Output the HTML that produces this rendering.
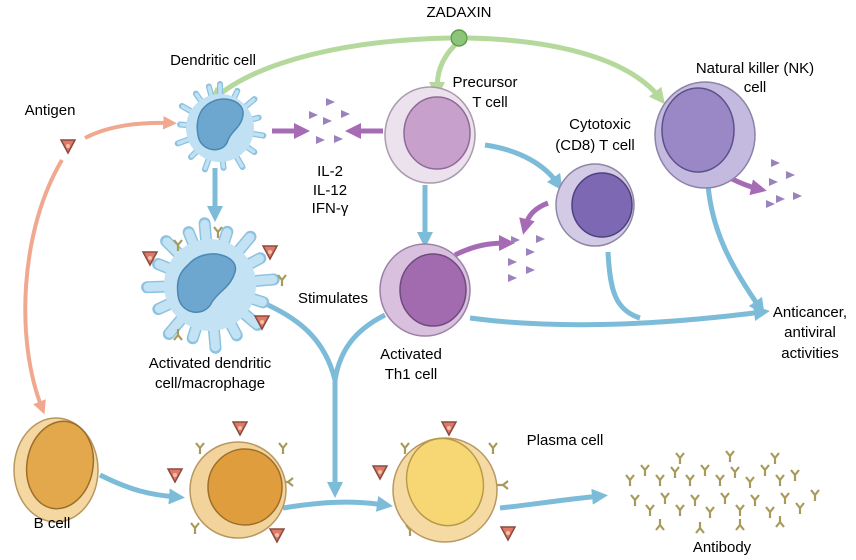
<!DOCTYPE html>
<html><head><meta charset="utf-8"><style>
html,body{margin:0;padding:0;background:#fff;}
svg{display:block;font-family:"Liberation Sans",sans-serif;}
</style></head><body>
<svg width="856" height="560" viewBox="0 0 856 560" xmlns="http://www.w3.org/2000/svg">
<defs>
<marker id="ab" viewBox="0 0 10 10" refX="5" refY="5" markerWidth="3.2" markerHeight="3.2" orient="auto"><path d="M0,0L10,5L0,10z" fill="#7cbcd9"/></marker>
<marker id="ag" viewBox="0 0 10 10" refX="5" refY="5" markerWidth="3.2" markerHeight="3.2" orient="auto"><path d="M0,0L10,5L0,10z" fill="#b5d99d"/></marker>
<marker id="ap" viewBox="0 0 10 10" refX="5" refY="5" markerWidth="3.4" markerHeight="3.4" orient="auto"><path d="M0,0L10,5L0,10z" fill="#f0a98f"/></marker>
<marker id="av" viewBox="0 0 10 10" refX="5" refY="5" markerWidth="3.2" markerHeight="3.2" orient="auto"><path d="M0,0L10,5L0,10z" fill="#a66bb5"/></marker>
<g id="tri"><path d="M-4,-4L5,0L-4,4z" fill="#9a82bd"/></g>
<g id="ant"><path d="M-7,-6L7,-6L0,7z" fill="#e07a66" stroke="#8a4a40" stroke-width="1.5"/><circle r="2" fill="#f2c0a8"/></g>
<g id="y" stroke="#a89a5a" stroke-width="2.2" fill="none"><path d="M0,6L0,0L-4,-5M0,0L4,-5"/></g>
</defs>
<rect width="856" height="560" fill="#fff"/>

<g stroke="#b5d99d" stroke-width="5" fill="none">
<path d="M450,38 C350,40 260,60 215,98" marker-end="url(#ag)"/>
<path d="M455,45 C440,60 437,75 437,90" marker-end="url(#ag)"/>
<path d="M468,38 C560,40 630,60 660,98" marker-end="url(#ag)"/>
</g>
<circle cx="459" cy="38" r="8" fill="#8cc47a" stroke="#5f9a4e" stroke-width="1.5"/>
<text x="459" y="17" font-size="15" text-anchor="middle">ZADAXIN</text>

<g stroke="#f0a98f" stroke-width="4" fill="none">
<path d="M85,138 C110,125 140,122 170,123" marker-end="url(#ap)"/>
<path d="M62,160 C20,230 15,340 42,408" marker-end="url(#ap)"/>
</g>
<use href="#ant" x="68" y="146"/>
<text x="50" y="115" font-size="15" text-anchor="middle">Antigen</text>

<g stroke="#7cbcd9" stroke-width="5" fill="none">
<path d="M215,168 L215,214" marker-end="url(#ab)"/>
<path d="M425,185 L425,240" marker-end="url(#ab)"/>
<path d="M485,145 C520,150 545,165 558,184" marker-end="url(#ab)"/>
<path d="M708,185 C712,230 730,265 760,308" marker-end="url(#ab)"/>
<path d="M608,252 C610,290 615,310 640,318" />
<path d="M470,318 C560,330 660,325 762,312" marker-end="url(#ab)"/>
<path d="M268,305 C300,320 325,340 335,380 L335,490" marker-end="url(#ab)"/>
<path d="M385,315 C355,330 340,350 335,380"/>
<path d="M100,475 C130,490 150,495 177,497" marker-end="url(#ab)"/>
<path d="M283,508 C320,502 350,500 385,505" marker-end="url(#ab)"/>
<path d="M500,508 C530,505 560,500 600,496" marker-end="url(#ab)"/>
</g>

<g stroke="#a66bb5" stroke-width="5" fill="none">
<path d="M272,131 L302,131" marker-end="url(#av)"/>
<path d="M383,131 L353,131" marker-end="url(#av)"/>
<path d="M455,255 C475,245 490,243 507,243" marker-end="url(#av)"/>
<path d="M548,203 C535,208 528,215 525,227" marker-end="url(#av)"/>
<path d="M730,178 C742,184 750,187 759,189" marker-end="url(#av)"/>
</g>
<use href="#tri" x="330" y="102"/>
<use href="#tri" x="313" y="115"/><use href="#tri" x="345" y="114"/><use href="#tri" x="327" y="121"/>
<use href="#tri" x="320" y="140"/><use href="#tri" x="338" y="139"/>
<use href="#tri" x="515" y="240"/><use href="#tri" x="540" y="239"/><use href="#tri" x="530" y="252"/>
<use href="#tri" x="512" y="262"/><use href="#tri" x="530" y="270"/><use href="#tri" x="512" y="278"/>
<use href="#tri" x="775" y="163"/><use href="#tri" x="790" y="175"/><use href="#tri" x="773" y="182"/>
<use href="#tri" x="770" y="204"/><use href="#tri" x="780" y="199"/><use href="#tri" x="797" y="196"/>
<text x="330" y="176" font-size="15" text-anchor="middle">IL-2</text>
<text x="330" y="195" font-size="15" text-anchor="middle">IL-12</text>
<text x="330" y="213" font-size="15" text-anchor="middle">IFN-γ</text>

<!-- dendritic cell -->
<g transform="translate(220,128)" stroke="#8dc2e0" stroke-width="6" stroke-linecap="round">
<line y1="-30" y2="-44" transform="rotate(0)"/><line y1="-30" y2="-41" transform="rotate(25)"/><line y1="-30" y2="-45" transform="rotate(50)"/><line y1="-30" y2="-40" transform="rotate(75)"/><line y1="-30" y2="-44" transform="rotate(100)"/><line y1="-30" y2="-42" transform="rotate(125)"/><line y1="-30" y2="-45" transform="rotate(150)"/><line y1="-30" y2="-40" transform="rotate(175)"/><line y1="-30" y2="-44" transform="rotate(200)"/><line y1="-30" y2="-41" transform="rotate(225)"/><line y1="-30" y2="-45" transform="rotate(250)"/><line y1="-30" y2="-40" transform="rotate(275)"/><line y1="-30" y2="-44" transform="rotate(300)"/><line y1="-30" y2="-42" transform="rotate(325)"/><line y1="-30" y2="-43" transform="rotate(345)"/>
</g>
<g transform="translate(220,128)" stroke="#bfe1f3" stroke-width="3.5" stroke-linecap="round">
<line y1="-30" y2="-43" transform="rotate(0)"/><line y1="-30" y2="-40" transform="rotate(25)"/><line y1="-30" y2="-44" transform="rotate(50)"/><line y1="-30" y2="-39" transform="rotate(75)"/><line y1="-30" y2="-43" transform="rotate(100)"/><line y1="-30" y2="-41" transform="rotate(125)"/><line y1="-30" y2="-44" transform="rotate(150)"/><line y1="-30" y2="-39" transform="rotate(175)"/><line y1="-30" y2="-43" transform="rotate(200)"/><line y1="-30" y2="-40" transform="rotate(225)"/><line y1="-30" y2="-44" transform="rotate(250)"/><line y1="-30" y2="-39" transform="rotate(275)"/><line y1="-30" y2="-43" transform="rotate(300)"/><line y1="-30" y2="-41" transform="rotate(325)"/><line y1="-30" y2="-42" transform="rotate(345)"/>
</g>
<circle cx="220" cy="128" r="34" fill="#bfe1f3"/>
<path d="M202,110 C215,92 245,98 243,115 C241,128 232,130 228,140 C224,155 200,152 198,135 C196,125 198,116 202,110z" fill="#6da7cf" stroke="#4b88b3" stroke-width="1.5"/>
<text x="213" y="65" font-size="15" text-anchor="middle">Dendritic cell</text>

<!-- activated dendritic -->
<g transform="translate(210,285)" stroke="#8dc2e0" stroke-width="12" stroke-linecap="round">
<line y2="-62" transform="rotate(-5)"/><line y2="-56" transform="rotate(18)"/><line y2="-63" transform="rotate(40)"/><line y2="-57" transform="rotate(62)"/><line y2="-64" transform="rotate(85)"/><line y2="-56" transform="rotate(108)"/><line y2="-62" transform="rotate(130)"/><line y2="-57" transform="rotate(152)"/><line y2="-63" transform="rotate(175)"/><line y2="-56" transform="rotate(198)"/><line y2="-64" transform="rotate(220)"/><line y2="-57" transform="rotate(245)"/><line y2="-63" transform="rotate(268)"/><line y2="-56" transform="rotate(292)"/><line y2="-62" transform="rotate(315)"/><line y2="-57" transform="rotate(338)"/>
</g>
<g transform="translate(210,285)" stroke="#c3e3f4" stroke-width="9" stroke-linecap="round">
<line y2="-61" transform="rotate(-5)"/><line y2="-55" transform="rotate(18)"/><line y2="-62" transform="rotate(40)"/><line y2="-56" transform="rotate(62)"/><line y2="-63" transform="rotate(85)"/><line y2="-55" transform="rotate(108)"/><line y2="-61" transform="rotate(130)"/><line y2="-56" transform="rotate(152)"/><line y2="-62" transform="rotate(175)"/><line y2="-55" transform="rotate(198)"/><line y2="-63" transform="rotate(220)"/><line y2="-56" transform="rotate(245)"/><line y2="-62" transform="rotate(268)"/><line y2="-55" transform="rotate(292)"/><line y2="-61" transform="rotate(315)"/><line y2="-56" transform="rotate(338)"/>
</g>
<circle cx="210" cy="285" r="46" fill="#c3e3f4"/>
<path d="M188,265 C205,245 240,255 235,272 C230,288 220,290 212,302 C205,318 180,315 178,295 C176,280 180,272 188,265z" fill="#6da7cf" stroke="#4b88b3" stroke-width="1.5"/>
<use href="#ant" x="150" y="258"/><use href="#ant" x="270" y="252"/><use href="#ant" x="262" y="322"/>
<use href="#y" x="178" y="245"/><use href="#y" x="218" y="232"/><use href="#y" x="282" y="280"/><use href="#y" x="178" y="335" transform="rotate(180 178 335)"/>
<text x="210" y="368" font-size="15" text-anchor="middle">Activated dendritic</text>
<text x="210" y="388" font-size="15" text-anchor="middle">cell/macrophage</text>
<text x="333" y="303" font-size="15" text-anchor="middle">Stimulates</text>

<ellipse cx="430" cy="135" rx="45" ry="48" fill="#ece2ee" stroke="#a99aae" stroke-width="1.5"/>
<ellipse cx="437" cy="133" rx="33" ry="36" fill="#c7a1cc" stroke="#8f6a98" stroke-width="1.5"/>
<text x="485" y="87" font-size="15" text-anchor="middle">Precursor</text>
<text x="490" y="107" font-size="15" text-anchor="middle">T cell</text>

<ellipse cx="425" cy="290" rx="45" ry="46" fill="#d8c0de" stroke="#9d82a6" stroke-width="1.5"/>
<ellipse cx="433" cy="290" rx="33" ry="36" fill="#a26bb0" stroke="#6f4a7c" stroke-width="1.5"/>
<text x="411" y="359" font-size="15" text-anchor="middle">Activated</text>
<text x="411" y="379" font-size="15" text-anchor="middle">Th1 cell</text>

<ellipse cx="595" cy="205" rx="39" ry="41" fill="#d3cbe6" stroke="#8f87a6" stroke-width="1.5"/>
<ellipse cx="602" cy="205" rx="30" ry="32" fill="#7d68b3" stroke="#4f4080" stroke-width="1.5"/>
<text x="600" y="129" font-size="15" text-anchor="middle">Cytotoxic</text>
<text x="595" y="150" font-size="15" text-anchor="middle">(CD8) T cell</text>

<ellipse cx="705" cy="135" rx="50" ry="53" fill="#c4b9df" stroke="#8c82a8" stroke-width="1.5"/>
<ellipse cx="698" cy="130" rx="36" ry="42" fill="#9a88c6" stroke="#5d4f88" stroke-width="1.5"/>
<text x="755" y="73" font-size="15" text-anchor="middle">Natural killer (NK)</text>
<text x="755" y="92" font-size="15" text-anchor="middle">cell</text>

<text x="810" y="317" font-size="15" text-anchor="middle">Anticancer,</text>
<text x="810" y="337" font-size="15" text-anchor="middle">antiviral</text>
<text x="810" y="358" font-size="15" text-anchor="middle">activities</text>

<ellipse cx="56" cy="470" rx="42" ry="52" fill="#f5d7a2" stroke="#b99860" stroke-width="1.5"/>
<ellipse cx="60" cy="465" rx="33" ry="44" fill="#e2a84b" stroke="#9c6e2a" stroke-width="1.5" transform="rotate(10 60 465)"/>
<text x="52" y="528" font-size="15" text-anchor="middle">B cell</text>

<use href="#ant" x="240" y="428"/><use href="#ant" x="175" y="475"/><use href="#ant" x="277" y="535"/>
<use href="#y" x="200" y="448"/><use href="#y" x="283" y="448"/><use href="#y" x="288" y="482" transform="rotate(90 288 482)"/><use href="#y" x="195" y="528"/>
<circle cx="238" cy="490" r="48" fill="#f2d39c" stroke="#b99860" stroke-width="1.5"/>
<ellipse cx="245" cy="487" rx="37" ry="38" fill="#e09d3d" stroke="#9c6e2a" stroke-width="1.5"/>

<use href="#ant" x="449" y="428"/><use href="#ant" x="380" y="472"/><use href="#ant" x="508" y="533"/>
<use href="#y" x="405" y="448"/><use href="#y" x="493" y="448"/><use href="#y" x="503" y="485" transform="rotate(90 503 485)"/><use href="#y" x="410" y="530"/>
<circle cx="445" cy="490" r="52" fill="#f6daa4" stroke="#b99860" stroke-width="1.5"/>
<ellipse cx="445" cy="482" rx="38" ry="44" fill="#f7d674" stroke="#b59a48" stroke-width="1.5" transform="rotate(-15 445 482)"/>
<text x="565" y="445" font-size="15" text-anchor="middle">Plasma cell</text>

<g>
<use href="#y" x="630" y="480"/><use href="#y" x="645" y="470"/><use href="#y" x="660" y="480"/><use href="#y" x="675" y="472"/>
<use href="#y" x="690" y="480"/><use href="#y" x="705" y="470"/><use href="#y" x="720" y="480"/><use href="#y" x="735" y="472"/><use href="#y" x="750" y="482"/><use href="#y" x="765" y="470"/><use href="#y" x="780" y="480"/><use href="#y" x="795" y="475"/>
<use href="#y" x="635" y="500"/><use href="#y" x="650" y="510"/><use href="#y" x="665" y="498"/><use href="#y" x="680" y="510"/><use href="#y" x="695" y="500"/><use href="#y" x="710" y="512"/><use href="#y" x="725" y="498"/><use href="#y" x="740" y="510"/><use href="#y" x="755" y="500"/><use href="#y" x="770" y="512"/><use href="#y" x="785" y="498"/><use href="#y" x="800" y="508"/><use href="#y" x="815" y="495"/>
<use href="#y" x="660" y="525" transform="rotate(180 660 525)"/><use href="#y" x="700" y="528" transform="rotate(180 700 528)"/><use href="#y" x="740" y="525" transform="rotate(180 740 525)"/><use href="#y" x="780" y="522" transform="rotate(180 780 522)"/><use href="#y" x="680" y="458"/><use href="#y" x="730" y="456"/><use href="#y" x="775" y="458"/>
</g>
<text x="722" y="552" font-size="15" text-anchor="middle">Antibody</text>
</svg>
</body></html>
